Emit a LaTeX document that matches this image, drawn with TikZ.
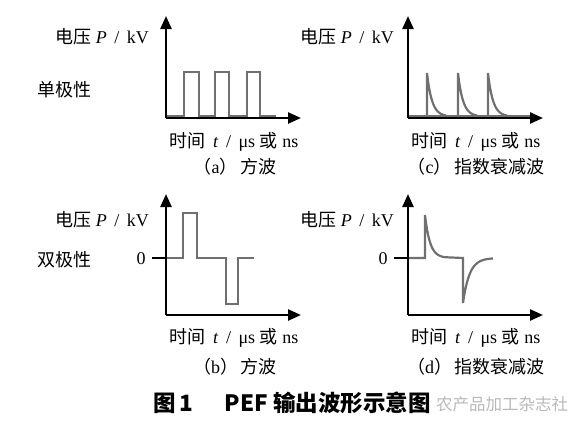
\documentclass[tikz,border=0pt]{standalone}
\usepackage{fontspec}
\setmainfont{Liberation Serif}
\newfontfamily\cjk{Noto Sans CJK SC}
\usetikzlibrary{arrows.meta}

\definecolor{wavegray}{RGB}{112,112,112}
\definecolor{markgray}{RGB}{185,185,185}

\begin{document}
\begin{tikzpicture}[x=1pt,y=-1pt,>={Triangle[length=13pt,width=11pt]},
                    axis/.style={->,line width=2.4pt,black},
                    wave/.style={line width=2.2pt,wavegray,line join=miter},
                    lbl/.style={inner sep=0pt,font=\fontsize{18}{21}\selectfont}]
  \useasboundingbox (0,0) rectangle (586,426);

  % axes corners
  \coordinate (Oa) at (166,118);  \coordinate (Ya) at (166,16);  \coordinate (Xa) at (301,118);
  \coordinate (Oc) at (408,118);  \coordinate (Yc) at (408,16);  \coordinate (Xc) at (543,118);
  \coordinate (Ob) at (166,315);  \coordinate (Yb) at (166,194); \coordinate (Xb) at (301,315);
  \coordinate (Od) at (408,315);  \coordinate (Yd) at (408,194); \coordinate (Xd) at (543,315);
  \coordinate (Zb) at (152,258);  \coordinate (Zb1) at (166,258);
  \coordinate (Zd) at (394,258);  \coordinate (Zd1) at (408,258);

  % labels
  \node[lbl,anchor=east] (Pa) at (149,37)  {{\cjk 电压} \textit{P} \,/\, kV};
  \node[lbl,anchor=east] (Pc) at (394,37)  {{\cjk 电压} \textit{P} \,/\, kV};
  \node[lbl,anchor=east] (Pb) at (149,220) {{\cjk 电压} \textit{P} \,/\, kV};
  \node[lbl,anchor=east] (Pd) at (394,220) {{\cjk 电压} \textit{P} \,/\, kV};
  \node[lbl] (uni) at (64,90)  {\cjk 单极性};
  \node[lbl] (bi)  at (64,260) {\cjk 双极性};
  \node[lbl] (0b)  at (141,259) {0};
  \node[lbl] (0d)  at (383,259) {0};
  \node[lbl] (Ta) at (234,142) {{\cjk 时间}\, \textit{t} \,/\, μs {\cjk 或} ns};
  \node[lbl] (Tc) at (476,142) {{\cjk 时间}\, \textit{t} \,/\, μs {\cjk 或} ns};
  \node[lbl] (Tb) at (234,338) {{\cjk 时间}\, \textit{t} \,/\, μs {\cjk 或} ns};
  \node[lbl] (Td) at (476,338) {{\cjk 时间}\, \textit{t} \,/\, μs {\cjk 或} ns};
  \node[lbl] (Ca) at (235,167) {{\cjk （}a{\cjk ）\,方波}};
  \node[lbl] (Cc) at (476,167) {{\cjk （}c{\cjk ）\,指数衰减波}};
  \node[lbl] (Cb) at (235,367) {{\cjk （}b{\cjk ）\,方波}};
  \node[lbl] (Cd) at (476,367) {{\cjk （}d{\cjk ）\,指数衰减波}};

  \node[font=\cjk\bfseries\fontsize{22.5}{26}\selectfont] (title) at (292,403) {图\,1\quad\, PEF 输出波形示意图};
  \node[font=\cjk\fontsize{16.5}{19}\selectfont,text=markgray] (mark) at (502,404) {农产品加工杂志社};

  % waveforms
  \draw[wave] (166,116.5) -- (184,116.5) |- (199,72) |- (215,116.5) |- (229,72) |- (247,116.5)
              |- (260,72) |- (276,116.5);
  \draw[wave] (408,116.5) -- (530,116.5);
  \foreach \s in {427,458,488}
    \draw[wave] (\s,116.5) -- (\s,73)
      -- plot[domain=\s:\s+19,samples=25,smooth] (\x,{116.5-43.5*exp(-(\x-\s)/5)});
  \draw[wave] (Zb1) -- (183,258) |- (197,213) |- (226,258) |- (238,304) |- (254,258);
  \draw[wave] (Zd1) -- (425,258) -- (425,215)
      -- plot[domain=425:445,samples=25,smooth] (\x,{258-43*exp(-(\x-425)/5)})
      -- (463,258) -- (463,303)
      -- plot[domain=463:493,samples=30,smooth] (\x,{258+45*exp(-(\x-463)/6.5)});

  % axes
  \path (Oa) edge[axis] (Ya) edge[axis] (Xa)
        (Oc) edge[axis] (Yc) edge[axis] (Xc)
        (Ob) edge[axis] (Yb) edge[axis] (Xb)
        (Od) edge[axis] (Yd) edge[axis] (Xd);
  \draw[line width=2pt] (Zb) -- (Zb1);
  \draw[line width=2pt] (Zd) -- (Zd1);
\end{tikzpicture}
\end{document}
